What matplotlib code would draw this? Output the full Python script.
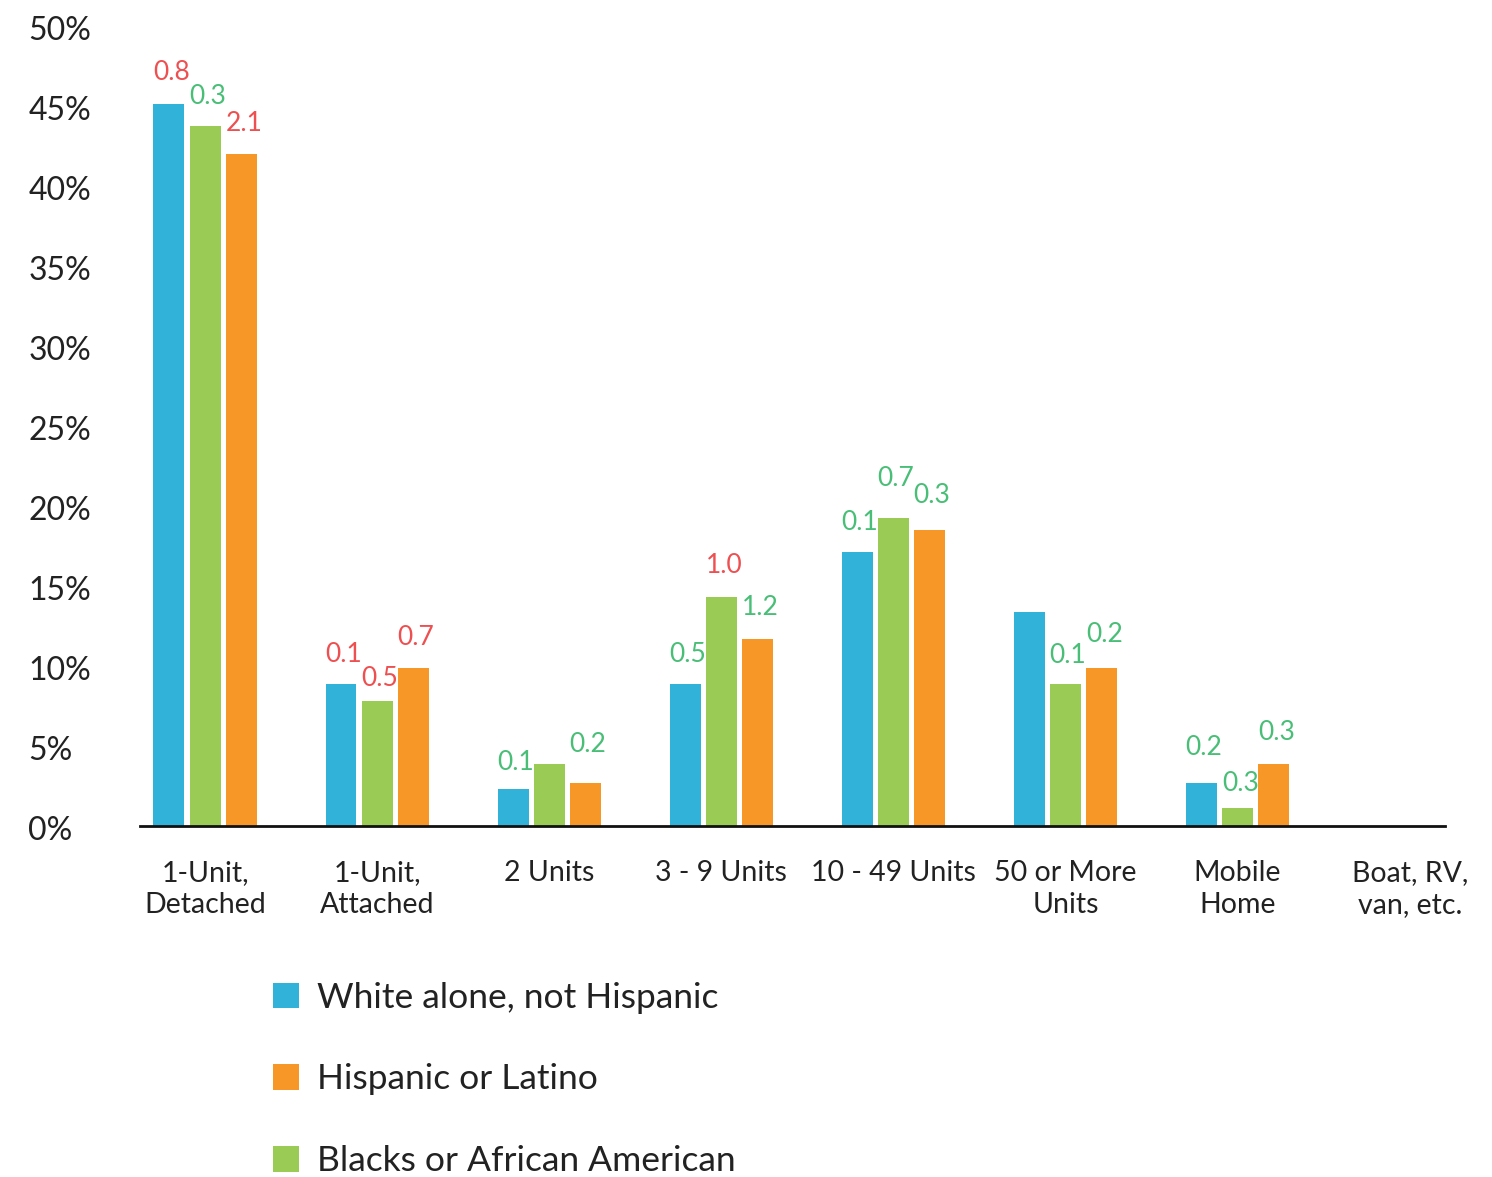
import matplotlib
matplotlib.use("Agg")
import matplotlib.pyplot as plt
import numpy as np

plt.rcParams['font.family'] = ['Lato', 'DejaVu Sans']

categories = ["1-Unit,\nDetached", "1-Unit,\nAttached", "2 Units", "3 - 9 Units",
              "10 - 49 Units", "50 or More\nUnits", "Mobile\nHome", "Boat, RV,\nvan, etc."]
white = [45.1, 8.9, 2.3, 8.9, 17.1, 13.4, 2.7, 0.0]
black = [43.75, 7.8, 3.9, 14.3, 19.25, 8.9, 1.1, 0.0]
hispanic = [42.0, 9.9, 2.7, 11.7, 18.5, 9.9, 3.9, 0.0]

white_lbl = ["0.8", "0.1", "0.1", "0.5", "0.1", None, "0.2", None]
white_lbl_col = ["r", "r", "g", "g", "g", None, "g", None]
black_lbl = ["0.3", "0.5", None, "1.0", "0.7", "0.1", "0.3", None]
black_lbl_col = ["g", "r", None, "r", "g", "g", "g", None]
hisp_lbl = ["2.1", "0.7", "0.2", "1.2", "0.3", "0.2", "0.3", None]
hisp_lbl_col = ["r", "r", "g", "g", "g", "g", "g", None]

yticks = [0, 5, 10, 15, 20, 25, 30, 35, 40, 45, 50]

# label vertical offsets (percentage points above bar top)
white_off = [1.35, 1.2, 1.05, 1.2, 1.25, 0, 1.6, 0]
black_off = [1.2, 0.8, 0, 1.35, 1.85, 1.1, 0.95, 0]
hisp_off = [1.3, 1.25, 1.75, 1.35, 1.55, 1.45, 1.3, 0]

C_BLUE = "#31B2D9"
C_GREEN = "#9ACC55"
C_ORANGE = "#F79727"
LBL = {"r": "#EE4F50", "g": "#48BE76"}

fig = plt.figure(figsize=(14.92, 11.77), dpi=100)
ax = fig.add_axes([140/1492, 1-826/1177, 1305/1492, 800/1177])

x = np.arange(len(categories))
w = 0.18
step = 0.21
b1 = ax.bar(x - step, white, w, color=C_BLUE, label="White alone, not Hispanic")
b2 = ax.bar(x, black, w, color=C_GREEN, label="Blacks or African American")
b3 = ax.bar(x + step, hispanic, w, color=C_ORANGE, label="Hispanic or Latino")

for xs, vals, lbls, cols, offs in [(x - step, white, white_lbl, white_lbl_col, white_off),
                                   (x, black, black_lbl, black_lbl_col, black_off),
                                   (x + step, hispanic, hisp_lbl, hisp_lbl_col, hisp_off)]:
    for xi, v, l, c, o in zip(xs, vals, lbls, cols, offs):
        if l is None:
            continue
        ax.text(xi + 0.015, v + o - 0.15, l, color=LBL[c], fontsize=19, ha="center", va="bottom")

ax.set_xlim(-0.378, 7.205)
ax.set_ylim(0, 50)
for s in ["top", "right", "left"]:
    ax.spines[s].set_visible(False)
ax.spines["bottom"].set_linewidth(2)
ax.spines["bottom"].set_color("#111111")
ax.set_yticks([])
ax.set_xticks([])

for t in yticks:
    ax.text(-0.0855, t - 0.3, f"{t}%", transform=ax.get_yaxis_transform(), ha="left",
            va="center", fontsize=23, color="#222222")

for xi, c in zip(x, categories):
    ax.text(xi, -2.1, c, ha="center", va="top", fontsize=20.5, color="#222222",
            linespacing=1.3)

handles = [b1, b3, b2]
leg = fig.legend(handles, [h.get_label() for h in handles], loc="upper left",
                 bbox_to_anchor=(241/1492, 1-950/1177), frameon=False, fontsize=25.5,
                 handlelength=0.75, handleheight=0.75, labelspacing=1.4,
                 handletextpad=0.5)
for t in leg.get_texts():
    t.set_color("#222222")

fig.savefig("out.png", dpi=100)
